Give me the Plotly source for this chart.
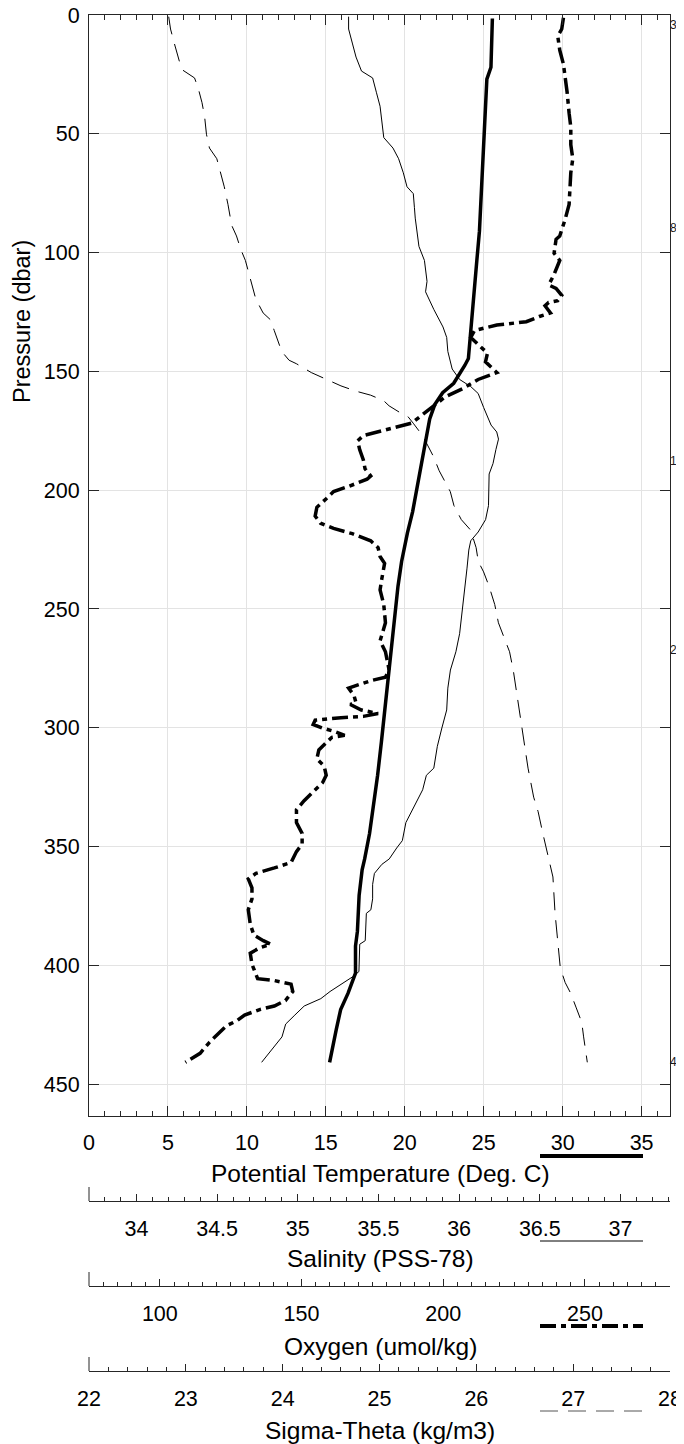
import plotly.graph_objects as go

# ---------------- data ----------------
temp_pressure = [1.5, 22, 27, 50, 74, 91, 103, 118, 133, 144.6, 147.5, 155, 159, 164, 170, 184, 196, 209,
                 218, 230, 240.5, 263.4, 278.7, 294, 306, 320, 332.2, 344.5, 355.2, 359.8, 370.5, 385.7,
                 391.9, 403.3, 411.7, 418.6, 427, 440.8]
temperature = [25.55, 25.46, 25.2, 25.04, 24.85, 24.73, 24.57, 24.38, 24.15, 24.03, 23.8, 23.1, 22.4, 21.9,
               21.58, 21.2, 20.87, 20.5, 20.17, 19.8, 19.57, 19.22, 18.94, 18.75, 18.52, 18.28, 18.05, 17.77,
               17.46, 17.3, 17.11, 17.0, 16.88, 16.88, 16.41, 15.94, 15.66, 15.24]

sal_pressure = [0.7, 5.9, 11.8, 17.7, 23.6, 26.5, 32.5, 38.4, 51.6, 56, 60.5, 66.4, 72.3, 75.2, 81.1, 85.5,
                97.4, 103.3, 112.1, 116.5, 123.9, 131.3, 135.7, 141.6, 149, 153.4, 156.4, 159.3, 165.2,
                172.6, 175.5, 178.5, 182.9, 188.8, 193.2, 206.5, 212.4, 217.6, 221.3, 225.2, 232.8, 248.1,
                260.4, 268, 275.7, 283.3, 292.5, 300.1, 307.8, 317, 320, 326.1, 332.2, 339.9, 347.5, 350.6,
                355.2, 357.5, 361.3, 365.9, 372, 376.6, 378.1, 389.6, 391.1, 402.6, 404.9, 407.9, 411, 414,
                417.1, 420.9, 424.7, 430.1, 436.2, 440.8]
salinity = [35.315, 35.315, 35.338, 35.361, 35.395, 35.464, 35.487, 35.51, 35.533, 35.59, 35.625, 35.654,
            35.677, 35.716, 35.723, 35.728, 35.751, 35.785, 35.801, 35.792, 35.843, 35.9, 35.923, 35.93,
            35.957, 36.003, 36.072, 36.118, 36.152, 36.198, 36.233, 36.244, 36.228, 36.21, 36.186, 36.182,
            36.164, 36.118, 36.072, 36.06, 36.049, 36.026, 36.003, 35.98, 35.946, 35.93, 35.923, 35.893,
            35.865, 35.843, 35.797, 35.774, 35.728, 35.67, 35.648, 35.613, 35.567, 35.521, 35.475, 35.464,
            35.464, 35.453, 35.425, 35.418, 35.384, 35.379, 35.338, 35.269, 35.2, 35.143, 35.04, 34.982,
            34.925, 34.902, 34.833, 34.776]

oxy_pressure = [1.2, 5.9, 8.9, 14.8, 20.7, 26.5, 32.5, 41.3, 47.2, 54.6, 60.5, 66.4, 73.8, 79.7, 85.6, 93,
                94.4, 100.3, 103.3, 109.2, 113.6, 115.1, 118, 120.2, 121, 122.4, 125.4, 126.9, 129.1, 130.5,
                132.8, 135.7, 138.7, 142.3, 146, 147.5, 150.5, 153.4, 157.1, 160.8, 163.7, 168.2, 171.8,
                174.8, 177, 179.2, 182.9, 187.3, 191, 194, 195.4, 198.4, 200.6, 203.6, 207.2, 210.9, 213.9,
                216.1, 218.3, 221.3, 224.2, 227.9, 230.8, 237.4, 242, 248.1, 255.8, 263.4, 268, 275.7, 278.7,
                280.2, 281.8, 283.3, 286.4, 289.4, 290.2, 292.5, 294, 295.2, 295.8, 296.8, 298.6, 300.1,
                301.7, 303.2, 304, 306.2, 309.3, 313.1, 316.2, 320, 323.1, 326.9, 330.7, 334.5, 339.9, 344.5,
                349, 352.1, 356.7, 359, 361.3, 363.6, 367.4, 372, 376.6, 382.7, 387.3, 389.6, 391.1, 392.6,
                394.9, 399.5, 403.3, 405.6, 406.4, 407.9, 411, 414.8, 417.1, 418.6, 420.9, 423.2, 425.5,
                429.3, 432.4, 437, 440.8]
oxygen = [242.4, 241.8, 240.4, 241.1, 242.4, 243.1, 243.7, 244.4, 245, 245, 245.7, 245, 244.8, 244.4, 243.1,
          241.1, 239.8, 239.1, 241.1, 239.1, 237.2, 239.8, 241.8, 240.4, 237.2, 235.9, 237.8, 233.9, 229.3,
          218.9, 211, 209.7, 212.3, 215.6, 214.9, 216.3, 218.9, 212.3, 207.1, 200.6, 197.3, 192.7, 188.8,
          179.6, 171.8, 169.8, 170.5, 171.8, 172.4, 174.4, 173.1, 166.6, 161.3, 158.7, 155.4, 154.8, 156.7,
          161.3, 167.9, 174.4, 177, 177.7, 179.3, 178.3, 177.7, 179, 179.6, 177.7, 179.6, 180.9, 179.6,
          174.4, 170.5, 166.6, 168.5, 169.2, 167.2, 171.1, 177, 171.8, 163.9, 154.8, 154.1, 157.4, 162,
          165.2, 160.7, 158.7, 156.1, 155.4, 158, 158.7, 157.4, 154.1, 150.9, 148.2, 148.2, 150.2, 150.2,
          148.2, 146.3, 140.4, 133.9, 131.2, 132.5, 132.5, 131.2, 131.9, 133.2, 136.5, 139.1, 135.2, 131.9,
          132.5, 133.9, 134.5, 140.4, 146.3, 146.9, 144.3, 140.4, 135.2, 129.9, 127.3, 123.4, 120.1, 117.5,
          114.2, 109]

sig_pressure = [0.7, 5.9, 11.8, 17.7, 22.9, 26.5, 31, 36.9, 42.8, 50.2, 56, 60.5, 66.4, 72.3, 79.7, 88.5, 93,
                98.8, 103.3, 107.7, 113.6, 119.5, 125.4, 128.3, 132.8, 137.2, 141.6, 145.3, 146.8, 150.5,
                153.4, 156.1, 158.3, 160, 162.3, 164.5, 167.4, 168.9, 171.8, 177, 181.4, 185.9, 191.8, 196.2,
                200.6, 206.5, 212.4, 216.8, 224.2, 230, 234.4, 240.5, 248.1, 255.8, 261.9, 268, 275.7, 286.4,
                297.1, 307.8, 317, 329.2, 335.3, 344.5, 355.2, 362.8, 378.1, 390.3, 401, 407.2, 411.7, 417.9,
                424, 430.1, 440.8]
sigma_theta = [22.823, 22.842, 22.88, 22.918, 22.957, 23.09, 23.129, 23.167, 23.194, 23.213, 23.244, 23.32,
               23.358, 23.397, 23.435, 23.473, 23.523, 23.569, 23.615, 23.645, 23.684, 23.722, 23.798, 23.875,
               23.913, 23.951, 23.99, 24.066, 24.143, 24.296, 24.449, 24.602, 24.755, 24.908, 25.042, 25.099,
               25.214, 25.291, 25.348, 25.444, 25.501, 25.558, 25.616, 25.673, 25.731, 25.769, 25.845, 25.941,
               25.998, 26.02, 26.075, 26.132, 26.19, 26.228, 26.285, 26.343, 26.381, 26.419, 26.458, 26.496,
               26.534, 26.592, 26.638, 26.687, 26.745, 26.791, 26.813, 26.84, 26.867, 26.917, 26.974, 27.032,
               27.089, 27.108, 27.146]

side_label_text = ["3", "8", "17", "27", "44"]
side_label_pressure = [4.2, 89.6, 187.7, 267.3, 440.7]

temp_range = [0, 36.8]
sal_range = [33.706, 37.307]
oxy_range = [75, 280]
sig_range = [22, 28]
pres_range = [463.4, 0]

# ---------------- layout helpers ----------------
# the page adds an 8 px body margin, so the figure is made 8 px smaller and
# every page position below is converted by subtracting that offset
OFF = 8
W, H = 684 - OFF, 1444 - OFF
ML, MT = 89 - OFF, 15 - OFF
MR = W - (670 - OFF)
MB = H - (1371 - OFF)
PW = W - ML - MR
PH = H - MT - MB


def fy(ypx):  # page y pixel -> paper fraction
    return (H - MB - (ypx - OFF)) / PH


def fx(xpx):  # page x pixel -> paper fraction
    return (xpx - OFF - ML) / PW


FONT = "Liberation Sans, Arial, Helvetica, sans-serif"
FRAME = "#262626"
GRID = "#e3e3e3"
TICKF = dict(family=FONT, size=21.5, color="black")
TITLEF = dict(family=FONT, size=24.5, color="black")

fig = go.Figure()
fig.add_trace(go.Scatter(x=temperature, y=temp_pressure, xaxis="x", yaxis="y", mode="lines",
                         line=dict(color="black", width=3.5), showlegend=False))
fig.add_trace(go.Scatter(x=salinity, y=sal_pressure, xaxis="x2", yaxis="y", mode="lines",
                         line=dict(color="black", width=1), showlegend=False))
fig.add_trace(go.Scatter(x=oxygen, y=oxy_pressure, xaxis="x3", yaxis="y", mode="lines",
                         line=dict(color="black", width=3.5, dash="16px,5px,5px,5px"), showlegend=False))
fig.add_trace(go.Scatter(x=sigma_theta, y=sig_pressure, xaxis="x4", yaxis="y", mode="lines",
                         line=dict(color="black", width=1, dash="18px,10px"), showlegend=False))

free_common = dict(showline=True, linecolor=FRAME, linewidth=1, ticks="inside", tickcolor=FRAME,
                   tickwidth=1, ticklen=7, zeroline=False, showgrid=False, tickfont=TICKF,
                   overlaying="x", anchor="free", side="bottom", domain=[0, 1], automargin=False,
                   ticklabelstandoff=8, ticklabeloverflow="allow")

AX_T, AX_S, AX_O, AX_G = 1116, 1201, 1286, 1371

fig.update_layout(
    template="none",
    width=W, height=H,
    margin=dict(l=ML, r=MR, t=MT, b=MB, pad=0, autoexpand=False),
    paper_bgcolor="white", plot_bgcolor="white",
    font=dict(family=FONT, color="black"),
    showlegend=False,
    xaxis=dict(range=temp_range, domain=[0, 1], anchor="y", side="bottom", tick0=0, dtick=5,
               ticks="inside", ticklen=10, tickcolor=FRAME, tickwidth=1, mirror="ticks",
               showline=True, linecolor=FRAME, linewidth=1, showgrid=True, gridcolor=GRID, gridwidth=1,
               zeroline=False, tickfont=TICKF, automargin=False, ticklabelstandoff=7,
               ticklabeloverflow="allow",
               minor=dict(tick0=0, dtick=1, ticks="inside", ticklen=5, tickcolor=FRAME, showgrid=False)),
    xaxis2=dict(range=sal_range, position=fy(AX_S), tick0=34, dtick=0.5,
                minor=dict(tick0=34, dtick=0.1, ticks="inside", ticklen=4, tickcolor=FRAME, showgrid=False),
                **free_common),
    xaxis3=dict(range=oxy_range, position=fy(AX_O), tick0=100, dtick=50,
                minor=dict(tick0=100, dtick=5, ticks="inside", ticklen=4, tickcolor=FRAME, showgrid=False),
                **free_common),
    xaxis4=dict(range=sig_range, position=fy(AX_G), tick0=22, dtick=1,
                minor=dict(tick0=22, dtick=0.2, ticks="inside", ticklen=4, tickcolor=FRAME, showgrid=False),
                **free_common),
    yaxis=dict(range=pres_range, domain=[fy(AX_T), 1], anchor="x", tick0=0, dtick=50,
               ticks="inside", ticklen=10, tickcolor=FRAME, tickwidth=1, mirror="ticks",
               showline=True, linecolor=FRAME, linewidth=1, showgrid=True, gridcolor=GRID, gridwidth=1,
               zeroline=False, tickfont=TICKF, automargin=False, ticklabelstandoff=4,
               ticklabeloverflow="allow"),
)

# axis titles
titles = [("Potential Temperature (Deg. C)", 1173), ("Salinity (PSS-78)", 1258),
          ("Oxygen (umol/kg)", 1346), ("Sigma-Theta (kg/m3)", 1430)]
for txt, ypx in titles:
    fig.add_annotation(text=txt, xref="paper", yref="paper", x=fx(380), y=fy(ypx), xanchor="center",
                       yanchor="middle", showarrow=False, font=TITLEF)
fig.add_annotation(text="Pressure (dbar)", xref="paper", yref="paper", x=fx(22), y=fy(322),
                   xanchor="center", yanchor="middle", textangle=-90, showarrow=False,
                   font=dict(family=FONT, size=23.5, color="black"))

# labels cut at the right edge
for txt, p in zip(side_label_text, side_label_pressure):
    fig.add_annotation(text=txt, xref="paper", yref="y", x=1, y=p, xanchor="left", yanchor="middle",
                       xshift=-2, showarrow=False, font=dict(family=FONT, size=12, color="#1a1a1a"))

# left end marks of the lower axes
for ax in (AX_S, AX_O, AX_G):
    fig.add_shape(type="line", xref="paper", yref="paper", x0=0, x1=0, y0=fy(ax), y1=fy(ax - 14),
                  line=dict(color=FRAME, width=1))

# line-style keys under each axis
keys = [(1156, dict(color="black", width=4)),
        (1241, dict(color="black", width=1)),
        (1326, dict(color="black", width=4, dash="16px,5px,5px,5px")),
        (1411, dict(color="#555555", width=1, dash="18px,10px"))]
for ypx, ln in keys:
    fig.add_shape(type="line", xref="paper", yref="paper", x0=fx(540), x1=fx(643), y0=fy(ypx), y1=fy(ypx),
                  line=ln)

fig.write_html("out.html")
